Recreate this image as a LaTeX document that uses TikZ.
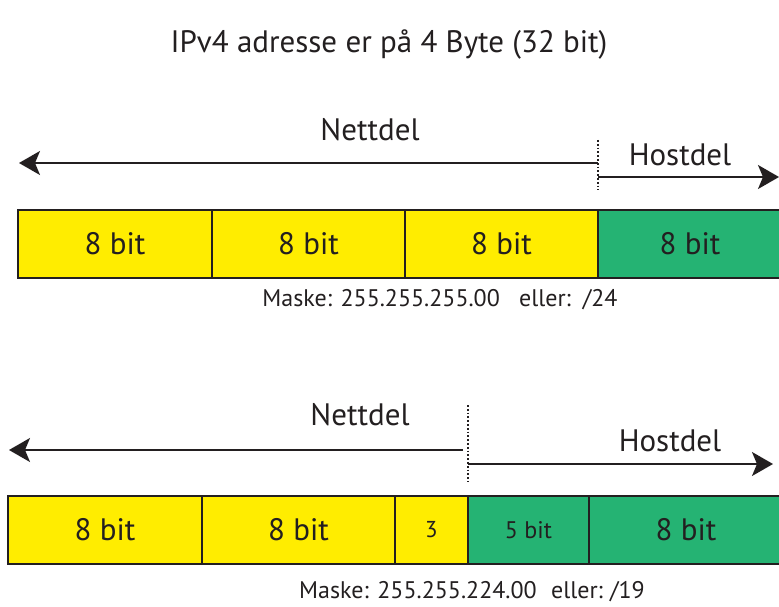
\documentclass[tikz,border=0pt]{standalone}
\usepackage{fontspec}
\setmainfont{PT Sans}
\usetikzlibrary{arrows.meta}
\definecolor{yel}{RGB}{255,237,0}
\definecolor{grn}{RGB}{37,179,115}
\definecolor{ink}{RGB}{35,31,32}
\tikzset{
  cell/.style={draw=ink, line width=1.8pt, anchor=north west, inner sep=0pt, outer sep=0pt,
    minimum height=68pt, font=\fontsize{31}{34}\selectfont, text=ink},
  lbl/.style={font=\fontsize{31}{34}\selectfont, text=ink, inner sep=0pt},
  mask/.style={font=\fontsize{24}{28}\selectfont, text=ink, inner sep=0pt},
  arr/.style={draw=ink, line width=1.8pt, -{Stealth[length=21pt,width=24pt,inset=5pt]}},
  divline/.style={draw=ink, line width=1.8pt, dotted},
}
\begin{document}
\begin{tikzpicture}[x=1pt,y=-1pt]
\useasboundingbox[fill=white] (0,0) rectangle (779,607);
% title
\node[lbl] (title) at (389,45) {IPv4 adresse er på 4 Byte (32 bit)};
% --- top ---
\node[lbl] (nd1) at (370,130) {Nettdel};
\node[lbl] (hd1) at (680,155) {Hostdel};
\coordinate (d1t) at (598,140);
\coordinate (d1b) at (598,190);
\coordinate (n1l) at (19,163);
\coordinate (n1r) at (598,163);
\coordinate (h1l) at (598,177);
\coordinate (h1r) at (779,177);
\draw[divline] (d1t) -- (d1b);
\draw[arr] (n1r) -- (n1l);
\draw[arr] (h1l) -- (h1r);
\node[cell, fill=yel, minimum width=194pt] (a1) at (18,210) {8 bit};
\node[cell, fill=yel, minimum width=193pt] (a2) at (a1.north east) {8 bit};
\node[cell, fill=yel, minimum width=193pt] (a3) at (a2.north east) {8 bit};
\node[cell, fill=grn, minimum width=184pt] (a4) at (a3.north east) {8 bit};
\node[mask] (m1) at (440,300) {Maske: 255.255.255.00\hspace{0.8em}eller:\hspace{0.5em}/24};
% --- bottom ---
\node[lbl] (nd2) at (360,415) {Nettdel};
\node[lbl] (hd2) at (670,441) {Hostdel};
\coordinate (d2t) at (468,405);
\coordinate (d2b) at (468,482);
\coordinate (n2l) at (9,450);
\coordinate (n2r) at (463,450);
\coordinate (h2l) at (468,464);
\coordinate (h2r) at (773,464);
\draw[divline] (d2t) -- (d2b);
\draw[arr] (n2r) -- (n2l);
\draw[arr] (h2l) -- (h2r);
\node[cell, fill=yel, minimum width=194pt] (b1) at (8,496) {8 bit};
\node[cell, fill=yel, minimum width=193pt] (b2) at (b1.north east) {8 bit};
\node[cell, fill=yel, minimum width=73pt, font=\fontsize{23}{26}\selectfont] (b3) at (b2.north east) {3};
\node[cell, fill=grn, minimum width=121pt, font=\fontsize{24}{27}\selectfont] (b4) at (b3.north east) {5 bit};
\node[cell, fill=grn, minimum width=194pt] (b5) at (b4.north east) {8 bit};
\node[mask] (m2) at (472,592) {Maske: 255.255.224.00\hspace{0.6em}eller:\hspace{0.3em}/19};
\end{tikzpicture}
\end{document}
